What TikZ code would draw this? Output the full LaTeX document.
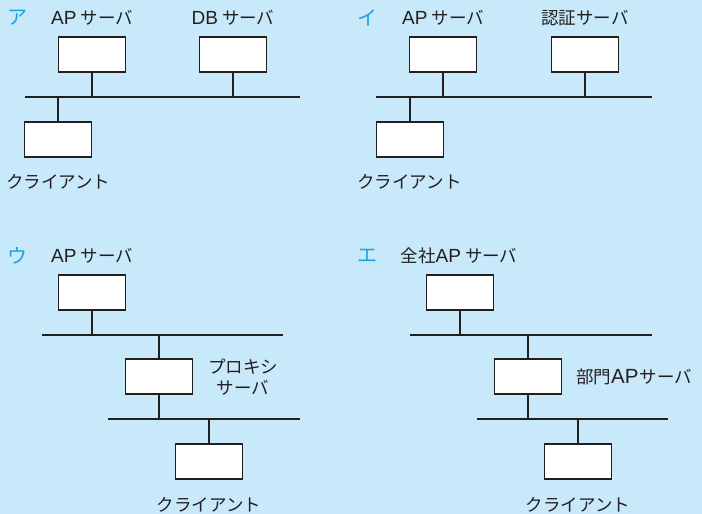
\documentclass[tikz,border=0pt]{standalone}
\usepackage{fontspec}
\setmainfont{Noto Sans CJK JP}
\newfontfamily\latf{Liberation Sans}
\newcommand{\lat}[1]{{\latf\fontsize{19}{21}\selectfont #1}}
\newcommand{\gap}{\hspace{4pt}}
\definecolor{bgblue}{HTML}{C8E9F9}
\definecolor{labcyan}{HTML}{1AA3E3}
\definecolor{ink}{HTML}{231F20}
\tikzset{
  srv/.style={draw=ink, fill=white, line width=1.5pt, minimum width=67pt, minimum height=35pt, inner sep=0pt},
  wire/.style={draw=ink, line width=1.8pt},
  txt/.style={text=ink, font=\fontsize{17.5}{21}\selectfont, inner sep=0pt},
  kana/.style={text=labcyan, font=\fontsize{20}{22}\selectfont, inner sep=0pt}
}
\begin{document}
\begin{tikzpicture}[x=1pt,y=-1pt]
\fill[bgblue] (0,0) rectangle (702,514);
\useasboundingbox (0,0) rectangle (702,514);
% ---------------- ア ----------------
\node[kana] (la) at (17,18) {ア};
\node[txt] (ta1) at (92,18) {\lat{AP}\gap サーバ};
\node[txt] (ta2) at (233,18) {\lat{DB}\gap サーバ};
\node[srv] (a1) at (92,54.5) {};
\node[srv] (a2) at (233,54.5) {};
\node[srv] (a3) at (58,139.5) {};
\node[txt, anchor=west] (ta3) at (6,182) {クライアント};
\coordinate (abl) at (25,97);
\coordinate (abr) at (300,97);
\draw[wire] (abl) -- (abr);
\draw[wire] (a1.south) -- (a1.south |- abl);
\draw[wire] (a2.south) -- (a2.south |- abl);
\draw[wire] (a3.north) -- (a3.north |- abl);
% ---------------- イ ----------------
\node[kana] (li) at (367,18) {イ};
\node[txt] (ti1) at (443,18) {\lat{AP}\gap サーバ};
\node[txt] (ti2) at (585,18) {認証サーバ};
\node[srv] (i1) at (443,54.5) {};
\node[srv] (i2) at (585,54.5) {};
\node[srv] (i3) at (410,139.5) {};
\node[txt, anchor=west] (ti3) at (357,182) {クライアント};
\coordinate (ibl) at (376,97);
\coordinate (ibr) at (652,97);
\draw[wire] (ibl) -- (ibr);
\draw[wire] (i1.south) -- (i1.south |- ibl);
\draw[wire] (i2.south) -- (i2.south |- ibl);
\draw[wire] (i3.north) -- (i3.north |- ibl);
% ---------------- ウ ----------------
\node[kana] (lu) at (17,256) {ウ};
\node[txt] (tu1) at (92,256) {\lat{AP}\gap サーバ};
\node[srv] (u1) at (92,292.5) {};
\node[srv] (u2) at (159,376.5) {};
\node[srv] (u3) at (209,461.5) {};
\node[txt, align=center] (tu2) at (243,377) {プロキシ\\サーバ};
\node[txt] (tu3) at (209,505) {クライアント};
\coordinate (ub1l) at (42,335);
\coordinate (ub1r) at (283,335);
\coordinate (ub2l) at (108,419);
\coordinate (ub2r) at (300,419);
\draw[wire] (ub1l) -- (ub1r);
\draw[wire] (ub2l) -- (ub2r);
\draw[wire] (u1.south) -- (u1.south |- ub1l);
\draw[wire] (u2.north) -- (u2.north |- ub1l);
\draw[wire] (u2.south) -- (u2.south |- ub2l);
\draw[wire] (u3.north) -- (u3.north |- ub2l);
% ---------------- エ ----------------
\node[kana] (le) at (367,256) {エ};
\node[txt] (te1) at (459,256) {全社\lat{AP}\gap サーバ};
\node[srv] (e1) at (460,292.5) {};
\node[srv] (e2) at (528,376.5) {};
\node[srv] (e3) at (578,461.5) {};
\node[txt, anchor=west] (te2) at (576,377) {部門{\latf\fontsize{20.5}{22}\selectfont AP}\hspace{1pt}サーバ};
\node[txt] (te3) at (578,505) {クライアント};
\coordinate (eb1l) at (410,335);
\coordinate (eb1r) at (652,335);
\coordinate (eb2l) at (477,419);
\coordinate (eb2r) at (668,419);
\draw[wire] (eb1l) -- (eb1r);
\draw[wire] (eb2l) -- (eb2r);
\draw[wire] (e1.south) -- (e1.south |- eb1l);
\draw[wire] (e2.north) -- (e2.north |- eb1l);
\draw[wire] (e2.south) -- (e2.south |- eb2l);
\draw[wire] (e3.north) -- (e3.north |- eb2l);
\end{tikzpicture}
\end{document}
